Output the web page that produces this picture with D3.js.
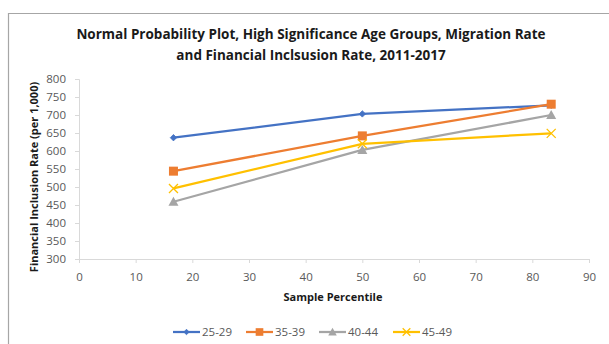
<!DOCTYPE html>
<html>
<head>
<meta charset="utf-8">
<script src="https://cdn.jsdelivr.net/npm/d3@7"></script>
<style>
  html, body { margin: 0; padding: 0; background: #fff; }
  svg { display: block; font-family: "Open Sans", "Liberation Sans", sans-serif; }
</style>
</head>
<body>
<svg id="chart" width="609" height="344"></svg>
<script>
// Sample percentiles shared by every age group
const percentiles = [16.67, 50, 83.33];

// Financial inclusion rate (per 1,000) for each age group
const seriesNames = ["25-29", "35-39", "40-44", "45-49"];
const rates2529 = [637, 703, 727];
const rates3539 = [544, 642, 730];
const rates4044 = [459, 603, 700];
const rates4549 = [496, 620, 649];

const xTicks = [0, 10, 20, 30, 40, 50, 60, 70, 80, 90];
const yTicks = [300, 350, 400, 450, 500, 550, 600, 650, 700, 750, 800];

const titleLines = [
  "Normal Probability Plot, High Significance Age Groups, Migration Rate",
  "and Financial Inclsusion Rate, 2011-2017"
];
const xTitle = "Sample Percentile";
const yTitle = "Financial Inclusion Rate (per 1,000)";

const allRates = [rates2529, rates3539, rates4044, rates4549];
const colors = ["#4472C4", "#ED7D31", "#A5A5A5", "#FFC000"];
const symbols = ["diamond", "square", "triangle", "cross"];

const svg = d3.select("#chart");

// chart frame
svg.append("path")
  .attr("d", "M8.5,344 V13.5 H609")
  .attr("fill", "none")
  .attr("stroke", "#a6a6a6")
  .attr("stroke-width", 1.2);

const x = d3.scaleLinear().domain([0, 90]).range([79, 589]);
const y = d3.scaleLinear().domain([300, 800]).range([259, 79]);

// title
svg.append("g").selectAll("text")
  .data(titleLines)
  .join("text")
  .attr("x", 311)
  .attr("y", (d, i) => 39 + i * 21)
  .attr("text-anchor", "middle")
  .attr("font-size", 13.5)
  .attr("font-weight", "bold")
  .attr("fill", "#1a1a1a")
  .text(d => d);

// axes
const axisColor = "#d9d9d9";
const tickColor = "#595959";

const gx = svg.append("g")
  .attr("transform", `translate(0,${y(300)})`)
  .call(d3.axisBottom(x).tickValues(xTicks).tickSize(4).tickPadding(10).tickFormat(d3.format("d")));
const gy = svg.append("g")
  .attr("transform", `translate(${x(0)},0)`)
  .call(d3.axisLeft(y).tickValues(yTicks).tickSize(4).tickPadding(9).tickFormat(d3.format("d")));

[gx, gy].forEach(g => {
  g.select(".domain").attr("stroke", axisColor).attr("stroke-width", 1);
  g.selectAll(".tick line").attr("stroke", axisColor);
  g.selectAll(".tick text").attr("fill", tickColor).attr("font-size", 11.5)
    .attr("font-family", "\"Open Sans\", \"Liberation Sans\", sans-serif");
});

// axis titles
svg.append("text")
  .attr("x", 333).attr("y", 301)
  .attr("text-anchor", "middle")
  .attr("font-size", 11)
  .attr("font-weight", "bold")
  .attr("fill", "#1a1a1a")
  .text(xTitle);

svg.append("text")
  .attr("transform", `translate(38,${(79 + 259) / 2 + 8}) rotate(-90)`)
  .attr("text-anchor", "middle")
  .attr("font-size", 11)
  .attr("font-weight", "bold")
  .attr("fill", "#1a1a1a")
  .text(yTitle);

// marker drawing
function drawMarker(g, kind, color, cx, cy, scale) {
  const s = scale || 1;
  if (kind === "diamond") {
    const r = 3.2 * s;
    g.append("path")
      .attr("d", `M${cx},${cy - r}L${cx + r},${cy}L${cx},${cy + r}L${cx - r},${cy}Z`)
      .attr("fill", color).attr("stroke", color).attr("stroke-width", 0.8);
  } else if (kind === "square") {
    const h = 4.5 * s;
    g.append("rect")
      .attr("x", cx - h).attr("y", cy - h)
      .attr("width", 2 * h).attr("height", 2 * h)
      .attr("fill", color);
  } else if (kind === "triangle") {
    const h = 5 * s;
    g.append("path")
      .attr("d", `M${cx},${cy - h}L${cx + h},${cy + h * 0.8}L${cx - h},${cy + h * 0.8}Z`)
      .attr("fill", color);
  } else {
    const h = 4.5 * s;
    g.append("path")
      .attr("d", `M${cx - h},${cy - h}L${cx + h},${cy + h}M${cx - h},${cy + h}L${cx + h},${cy - h}`)
      .attr("stroke", color).attr("stroke-width", 1.3).attr("fill", "none");
  }
}

const line = d3.line().x(d => x(d[0])).y(d => y(d[1]));

seriesNames.forEach((name, i) => {
  const pts = percentiles.map((p, j) => [p, allRates[i][j]]);
  const g = svg.append("g");
  g.append("path")
    .attr("d", line(pts))
    .attr("fill", "none")
    .attr("stroke", colors[i])
    .attr("stroke-width", 2.25)
    .attr("stroke-linejoin", "round");
  pts.forEach(p => drawMarker(g, symbols[i], colors[i], x(p[0]), y(p[1])));
});

// legend
const legendX = [173, 246, 319, 393];
const legend = svg.append("g");
seriesNames.forEach((name, i) => {
  const lx = legendX[i], ly = 332;
  legend.append("line")
    .attr("x1", lx).attr("x2", lx + 27)
    .attr("y1", ly).attr("y2", ly)
    .attr("stroke", colors[i]).attr("stroke-width", 2.25);
  drawMarker(legend, symbols[i], colors[i], lx + 13.5, ly, 0.85);
  legend.append("text")
    .attr("x", lx + 29).attr("y", ly + 4)
    .attr("font-size", 11.5)
    .attr("fill", tickColor)
    .text(name);
});
</script>
</body>
</html>
